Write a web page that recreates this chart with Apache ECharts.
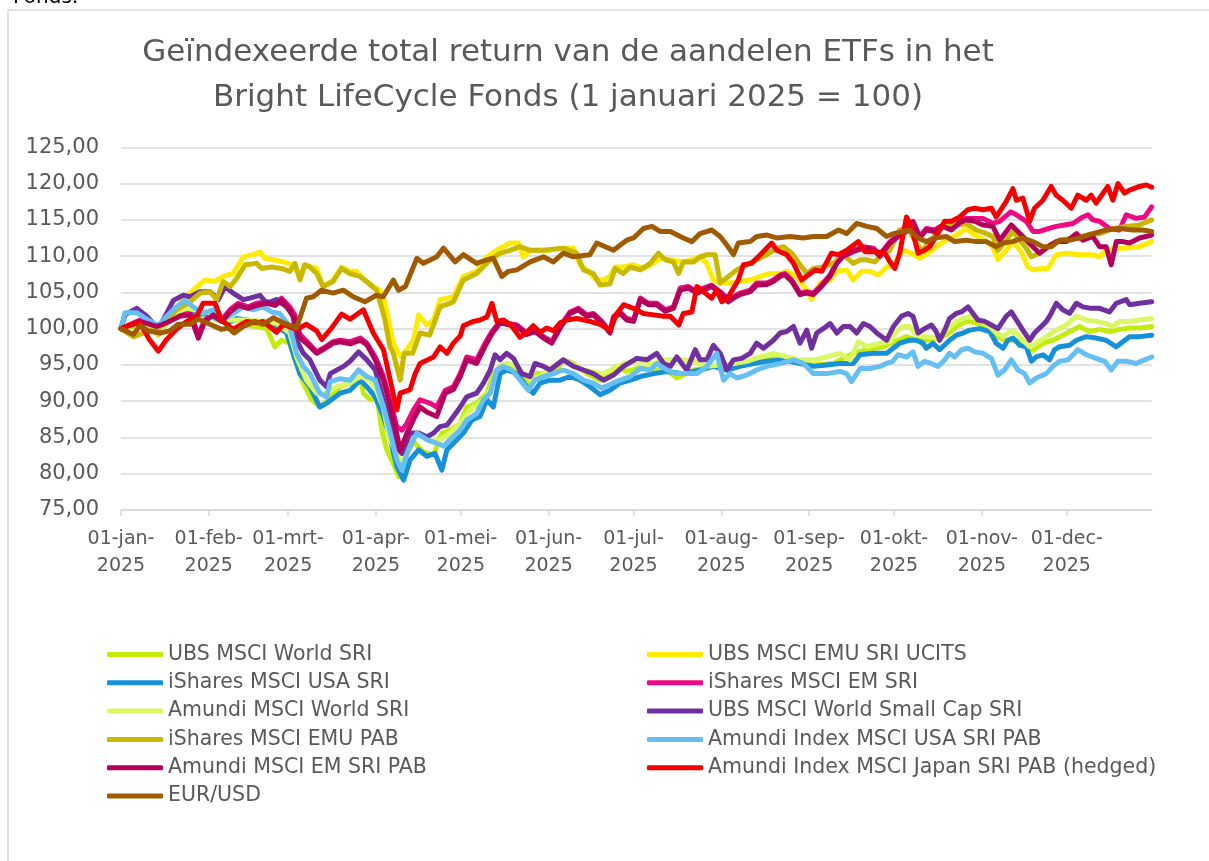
<!DOCTYPE html>
<html>
<head>
<meta charset="utf-8">
<script src="https://cdn.jsdelivr.net/npm/echarts@6/dist/echarts.min.js"></script>
<style>
html, body { margin: 0; padding: 0; background: #fff; }
#chart { width: 1209px; height: 861px; }
</style>
</head>
<body>
<div id="chart"></div>
<script>
// maandgrenzen (dag van het jaar) voor de x-as
var monthStarts = [0, 31, 59, 90, 120, 151, 181, 212, 243, 273, 304, 334];
var monthNames = ['jan', 'feb', 'mrt', 'apr', 'mei', 'jun', 'jul', 'aug', 'sep', 'okt', 'nov', 'dec'];

var seriesNames = [
    'UBS MSCI World SRI', 'UBS MSCI EMU SRI UCITS',
    'iShares MSCI USA SRI', 'iShares MSCI EM SRI',
    'Amundi MSCI World SRI', 'UBS MSCI World Small Cap SRI',
    'iShares MSCI EMU PAB', 'Amundi Index MSCI USA SRI PAB',
    'Amundi MSCI EM SRI PAB', 'Amundi Index MSCI Japan SRI PAB (hedged)',
    'EUR/USD'
];
var seriesColors = ['#C3EC0B', '#FFEB00', '#1690D8', '#EE0A82', '#DCF764', '#7030A0',
    '#C9B800', '#66BFF2', '#B4005B', '#F50000', '#A05A00'];

// [dag, index]
var ubsWorld = [[0,100],[4.4,100.3],[9.1,100.5],[13.2,99.1],[16.1,100.7],[19.6,101.7],[23.2,102.1],[26.7,101.7],[30.2,102.1],[33.8,101.2],[37.3,101],[40.8,101.2],[44.4,100.5],[47.9,100.3],[51.4,100],[54.4,97.5],[56.7,98.4],[59.6,98],[61.4,95.7],[64.4,92.5],[67.3,90.2],[70.2,89.2],[73.2,90.2],[77.4,92],[80.9,92.5],[84.5,93.4],[85.6,91.1],[88,90.2],[90.4,90.6],[92.1,86],[93.9,83.3],[96.2,81.4],[98,79.6],[100.4,82.4],[103.3,84.4],[106.8,83],[110.4,82.6],[113.3,85.6],[116.2,86],[119.8,86.9],[122.1,89.2],[125.6,89.7],[129.2,91.1],[131.5,93.8],[133.9,94.8],[136.2,95.2],[139.2,94.8],[142.1,93.4],[144.5,92],[146.8,93.8],[150.4,93.8],[153.9,94.3],[156.2,95.7],[159.8,95.2],[164.5,93.8],[169.2,92.9],[171.6,93.8],[175.1,94.8],[178.6,94.1],[183,94.6],[188.1,94.3],[192.8,94.3],[196.3,93.2],[202.2,94.3],[209.2,94.8],[216.3,94.8],[223.4,95.4],[230.4,95.9],[237.5,95.4],[244.5,95],[251.6,95.2],[258.6,96.6],[263.4,97.1],[269.2,97.5],[274.5,98.4],[277.4,98.9],[280.9,98.4],[284.4,98.4],[287.9,98.7],[291.5,99.1],[295,100.3],[298.5,101],[302,100.8],[305.6,100.1],[309.1,98.9],[312.6,98.4],[316.2,98.4],[319.7,97.8],[322,97],[325.6,98],[329.1,98.4],[332.6,99.1],[336.2,99.8],[338.5,100.3],[342.1,99.6],[345.6,99.9],[349.1,99.6],[352.6,99.9],[356.2,100.1],[359.7,100.1],[364,100.3]];

var ubsEmu = [[0,100],[4.4,98.9],[9.1,99.6],[12.6,99.8],[16.1,101.2],[19.6,103],[23.2,104.4],[25.5,105.3],[29.6,106.7],[33.2,106.5],[36.1,107.2],[39.6,107.6],[43.2,109.9],[46.7,110.2],[49.1,110.6],[50.8,109.7],[53.8,109.5],[57.3,109.2],[60.8,108.8],[63.2,107.2],[64.9,108.8],[69.1,108.3],[71.4,105.8],[74.9,106.7],[77.9,108.5],[80.8,107.9],[83.2,107.9],[85.5,106.9],[89.1,105.8],[91.4,105.3],[92.7,104.4],[94.5,101.2],[96.2,98],[98,96.6],[99.2,96.1],[100.9,97.1],[103.3,98.4],[105.1,101.9],[108,100.5],[110.4,101.2],[112.7,104],[117.4,104.4],[120.9,107.2],[125.6,107.9],[129.2,109.9],[132.7,110.8],[137.4,111.8],[140.4,111.8],[142.1,109.9],[144.5,110.8],[148,110.8],[151.5,110.8],[156.2,111.1],[159.8,111.1],[162.1,108.8],[164.5,108.1],[168,106.7],[170.4,106.7],[172.7,107.2],[174.5,108.5],[177.4,108.5],[181,108.8],[184.5,108.3],[188.1,109],[190.4,109.7],[194,109.5],[198.6,109.2],[201.6,109.5],[204.5,109.9],[206.9,109],[209.2,106.7],[211.6,106.3],[215.1,106.3],[218.6,106.5],[222.2,106.7],[225.7,107.2],[229.2,107.6],[232.8,107.6],[235.1,107.9],[238.6,107.2],[242.2,105.3],[243.9,104],[246.9,106.3],[250.4,106.7],[252.8,107.9],[256.3,108.1],[258.6,106.7],[261.6,107.9],[264.5,107.9],[267.5,107.4],[270.4,108.5],[272.8,108.8],[276.2,110.8],[279.1,110.4],[282.1,109.7],[284.4,110.2],[287.9,111.3],[291.5,112.2],[295,112.9],[298.5,113.8],[301.5,112.9],[305,112.2],[307.9,111.3],[309.7,109.5],[312.6,110.8],[315,112],[317.9,110.6],[320.3,108.5],[322.1,108.1],[325,108.3],[327.4,108.3],[330.3,110.2],[333.8,110.4],[338.5,110.2],[343.2,110.2],[345.6,109.9],[347.9,110.8],[351.5,111.1],[355,111.1],[359.7,111.3],[364,112]];

var isharesUsa = [[0,100],[4.4,100.5],[9.1,101],[13.2,100],[16.1,101],[19.6,102.1],[23.2,102.6],[26.7,101.9],[30.2,102.1],[33.8,101.4],[37.3,100.7],[40.8,101.4],[44.4,101.2],[47.9,101],[51.4,101],[54.9,100.3],[58.5,99.4],[60.8,96.6],[63.2,93.8],[66.7,92],[70.2,89.2],[72.6,89.7],[77.4,91.1],[80.9,91.5],[84.5,92.9],[86.8,92],[89.8,90.6],[92.7,87.9],[95.1,84.7],[97.4,81],[99.8,79.1],[102.1,81.9],[105.1,83.3],[108,82.4],[110.9,82.8],[113.3,80.5],[115.1,83.3],[117.4,84.2],[120.9,85.6],[123.9,87.4],[126.8,87.9],[129.2,90.2],[131.5,89.2],[133.9,93.8],[136.2,94.3],[139.8,93.8],[143.3,92],[145.6,91.1],[148,92.5],[151.5,92.9],[155.1,92.9],[158.6,93.4],[162.1,92.9],[165.7,92],[169.2,90.9],[172.7,91.5],[176.2,92.5],[179.8,92.9],[183.4,93.4],[188.1,93.8],[192.8,94.1],[198.6,93.8],[204.5,94.3],[209.2,94.8],[214,94.3],[218.6,94.8],[223.4,95.2],[228.1,95.5],[234,95.7],[239.8,95.2],[244.5,94.8],[249.2,95],[253.9,95.2],[258.6,95.2],[261,96.4],[265.7,96.6],[270.4,96.6],[275,98],[278.5,98.4],[280.9,98.4],[283.2,98],[284.4,97.3],[286.8,98],[289.1,97.1],[292.6,98.4],[295,99.1],[297.4,99.4],[299.7,99.8],[303.2,100],[306.8,99.6],[309.1,98],[311.5,97.3],[313.2,98.4],[315,98.7],[317.4,97.7],[319.7,97.5],[321.5,95.5],[323.2,96.1],[325.6,96.4],[327.9,95.7],[329.7,97.1],[331.5,97.5],[335,97.7],[337.4,98.4],[340.9,98.9],[344.4,98.7],[347.9,98.4],[351.5,97.5],[353.8,98.2],[356.2,98.9],[359.7,98.9],[364,99.1]];

var isharesEm = [[0,100],[6.7,101.2],[12.6,100.5],[16.1,101],[20.8,101.9],[24.4,102.1],[27.3,99.2],[29.6,101.2],[32.6,102.1],[35.5,101.2],[38.5,102.6],[41.4,103.5],[44.9,103],[47.9,103.5],[51.4,103.7],[54.4,103.5],[56.7,104.2],[59.6,103],[61.4,101.9],[63.2,99.2],[65.5,98.3],[69.1,96.8],[71.4,97.3],[74.9,98.2],[77.4,98.4],[80.9,98.2],[84.5,98.7],[86.8,98],[89.8,96.1],[92.7,93.4],[95.6,89.2],[97.4,86.5],[99.2,86],[100.9,86.9],[103.3,88.8],[105.6,90.2],[109.2,89.7],[111.5,89.2],[114.5,91.5],[117.4,92],[119.8,93.8],[122.1,96.1],[125.6,95.7],[128.6,98],[131,99.6],[133.9,101],[137.4,100.7],[139.8,100.5],[143.3,99.4],[146.2,99.8],[149.2,98.9],[152.1,98.2],[155.1,100.3],[158.6,102.3],[161.5,102.8],[164.5,101.9],[166.8,102.1],[169.8,101],[172.7,99.6],[174,101.7],[176.3,102.3],[178.6,101.4],[181,101.2],[183.4,104.2],[186.3,103.5],[189.2,103.5],[192.2,102.6],[195.1,103],[197.5,105.6],[200.4,105.8],[203.4,105.1],[205.7,105.6],[208.6,106],[211.6,105.1],[214.5,104],[216.3,104.4],[218.6,104.9],[222.2,105.3],[224.5,106.3],[228.1,106.3],[230.4,106.7],[232.8,107.4],[234.5,107.6],[236.9,106.7],[239.8,104.9],[242.2,105.1],[244.5,104.9],[246.9,105.8],[250.4,107.4],[252.8,109.2],[255.1,110.2],[258.6,110.8],[262.2,111.3],[265.7,111.1],[268,110.2],[271.6,112],[274.5,112.9],[277.4,113.6],[279.7,114.8],[282.1,112.7],[284.4,113.8],[287.4,113.6],[290.3,114.3],[293.2,113.8],[296.2,114.8],[298.5,115.2],[301.5,115.2],[304.4,115.2],[307.9,114.5],[310.3,114.8],[314.2,116.1],[316.2,115.7],[319.7,114.8],[322.1,113.4],[324.4,113.4],[327.4,113.8],[330.3,114.1],[333.2,114.3],[336.2,114.5],[339.7,115.4],[341.5,115.7],[343.2,115],[345.6,114.8],[349.1,113.8],[352.6,113.6],[355,115.7],[358.5,115.2],[361.5,115.4],[364,116.8]];

var amundiWorld = [[0,100],[4.4,100.5],[13.2,99.6],[19.6,102.3],[23.2,102.8],[30.2,102.3],[37.3,101.2],[44.4,101.2],[51.4,101],[54.9,100.7],[59.6,99.4],[62,96.1],[65.5,92.9],[69.1,91.1],[72.6,91.1],[76.1,92],[80.8,92.5],[84.4,93.4],[87.9,92.9],[90.2,91.5],[92.6,89.2],[94.9,84.7],[97.4,82.8],[99.2,81.2],[102.1,84.7],[105.6,85.6],[109.2,84.4],[112.7,84.7],[116.2,85.6],[119.8,86.9],[123.3,88.8],[126.8,89.7],[130.4,91.5],[132.7,94.3],[136.2,95.2],[139.8,94.8],[143.3,93.4],[145.6,92.9],[149.2,93.8],[156.2,95.7],[163.3,94.3],[170.4,93.8],[177.4,95.2],[183.4,95.5],[188.1,95.2],[192.8,95.7],[197.5,95.7],[202.2,95.5],[206.9,94.8],[211.6,95],[216.3,95.2],[221,95.5],[225.7,96.1],[230.4,96.6],[235.1,96.1],[239.8,95.7],[244.5,95.7],[249.2,96.1],[253.9,96.6],[257.5,95.7],[260.4,98.2],[263.4,97.5],[268.1,98],[271.6,98.2],[273.8,99.6],[276.2,100.3],[278.5,100.3],[280.9,99.1],[284.4,98.9],[287.9,98.7],[291.5,99.8],[295,101],[297.4,101.4],[299.7,101.7],[303.2,101.2],[306.8,100.3],[309.1,99.4],[311.5,98.9],[313.8,99.6],[316.2,99.4],[318.5,98.4],[320.9,97.5],[323.2,98],[326.8,98.9],[330.3,99.8],[333.8,100.5],[337.4,101.7],[340.9,101.2],[344.4,101],[347.9,100.7],[350.3,100.3],[352.6,101],[356.2,101],[359.7,101.2],[364,101.4]];

var smallCap = [[0,100],[1.4,101.9],[5.5,102.8],[9.1,101.7],[13.2,100],[16.1,102.1],[18.5,103.9],[22,104.6],[24.4,104.4],[27.9,105.1],[31.4,105.1],[34.4,104],[36.7,105.8],[39.6,104.9],[43.2,104],[45.5,104.2],[49.1,104.6],[51.4,103.5],[54.9,104],[58.5,103],[60.8,101.7],[62,98.4],[64.4,96.6],[66.7,95.7],[70.2,92.9],[72.6,92],[73.9,93.8],[78.6,94.8],[80.9,95.5],[83.9,96.8],[86.8,95.7],[89.8,94.3],[92.7,90.2],[95.1,86.9],[97.4,83.7],[99.2,82.8],[102.1,85.6],[105.1,85.6],[108,85.1],[110.4,85.6],[112.7,86.5],[115.1,86.7],[117.4,87.9],[119.8,89.2],[122.1,90.6],[125.6,91.1],[128,92.5],[130.4,94.3],[132.1,96.4],[133.9,95.7],[136.2,96.6],[138.6,95.9],[141.5,93.8],[144.5,93.4],[146.2,95.2],[149.2,94.8],[151.5,94.3],[156.2,95.7],[159.8,94.8],[163.3,94.3],[166.8,93.8],[170.4,92.9],[173.9,93.6],[177.4,94.8],[182.2,95.9],[185.7,95.7],[189.2,96.6],[191.6,95.2],[194,94.8],[196.3,96.1],[199.8,94.3],[202.8,97.1],[204.5,95.7],[206.9,95.7],[209.2,97.7],[211.6,96.6],[214,94.3],[216.3,95.7],[219.2,95.9],[222.2,96.6],[224.5,98],[226.9,97.3],[230.4,98.4],[232.8,99.4],[235.1,99.6],[237.5,100.3],[239.8,98],[242.2,99.8],[243.9,97.3],[245.7,99.4],[248,100],[250.4,100.7],[252.8,99.4],[255.1,100.3],[257.5,100.3],[259.8,99.4],[262.2,100.7],[264.5,100.3],[266.9,99.4],[270.4,98.4],[272.8,100.3],[275.6,101.7],[277.9,102.1],[279.7,101.7],[281.5,99.4],[283.8,100],[286.2,100.5],[287.9,99.6],[289.1,98.4],[290.9,99.8],[292.6,101.4],[295,102.1],[296.8,102.3],[299.1,103],[300.9,102.1],[302.6,101.2],[305,101],[307.4,100.5],[309.7,100],[312.6,101.7],[314.4,102.3],[316.2,101.2],[318.5,99.8],[320.9,98.4],[322.6,99.4],[325,100.3],[326.8,101],[328.5,102.1],[330.3,103.5],[332.6,102.6],[335,102.1],[337.4,103.5],[339.7,103],[342.6,102.8],[345.6,102.8],[349.1,102.3],[351.5,103.5],[355,104],[356.2,103.3],[359.7,103.5],[364,103.7]];

var isharesEmuPab = [[0,100],[4.4,98.9],[9.1,99.6],[12.6,99.8],[16.1,101],[19.6,102.6],[24.4,103.7],[27.9,104.9],[31.4,105.1],[33.8,104],[36.1,106.5],[38.5,105.8],[40.8,106.9],[43.8,108.8],[47.9,109],[49.7,108.3],[53.2,108.5],[56.7,108.3],[59.6,107.9],[61.4,109],[63.2,106.7],[64.9,108.8],[66.7,108.5],[69.1,107.6],[71.4,105.8],[74.9,106.5],[77.9,108.3],[80.8,107.6],[84.4,107.2],[86.7,106.5],[90.2,105.3],[92,103],[93.2,101.2],[95,97.5],[96.2,96.6],[98.6,92.9],[100,96.6],[103,96.6],[105.6,99.4],[109,99.1],[112.7,103],[117.4,103.7],[120.9,106.7],[125.6,107.6],[130.4,109.5],[134,110.4],[137.4,110.8],[140.9,111.3],[144.5,110.8],[149.2,110.8],[156.2,111.1],[160.9,110.4],[163.3,108.1],[166.8,107.6],[169.2,106],[172.7,106.2],[174.5,108.3],[177.4,107.6],[179.8,108.5],[183.4,108.1],[186.9,109],[189.8,110.4],[192.2,109.5],[195.1,109.2],[196.9,107.6],[198.6,109.2],[202.2,109.2],[204.5,109.9],[206.9,110.2],[209.8,110.2],[211.6,106.3],[214.5,107.2],[217.5,108.1],[221,108.8],[224.5,109.5],[228.1,110.2],[231.6,111.1],[234,111.3],[236.9,110.4],[239.8,108.8],[242.2,107.6],[244.5,108.3],[248,108.5],[251.6,109],[255.1,110.2],[258.6,109],[261,109.5],[263.2,109.5],[266.2,109.2],[268,109.9],[271.5,110.8],[275,113.6],[277.9,113.8],[280.3,112.2],[282.6,110.8],[285.6,111.8],[288.5,113.6],[290.9,114.3],[293.8,114.5],[296.2,114.3],[298.5,114.5],[302,113.6],[305.6,113.1],[307.9,112.7],[309.7,110.8],[312.6,112.2],[315,113.4],[317.4,112.2],[319.7,111.1],[321.5,109.9],[324.4,110.4],[327.9,111.5],[331.5,112.2],[336.2,112.5],[340.9,112.9],[345.6,113.1],[350.3,113.8],[355,114.1],[359.7,114.3],[364,115]];

var amundiUsaPab = [[0,100],[1.4,102.2],[5.5,102.2],[9.1,101.3],[13.2,100.4],[16.1,101.7],[19.6,103],[22.6,103.9],[25.5,103],[29.1,102.1],[32.6,102.6],[36.1,101.2],[39.6,102.1],[43.2,103],[46.7,102.6],[50.2,103],[53.2,102.3],[56.1,102.1],[59.6,100.3],[62,96.6],[64.4,94.8],[66.7,93.8],[70.2,91.1],[72.6,90.6],[73.9,92.7],[77.4,93.1],[80.9,92.9],[83.9,94.3],[86.8,93.4],[89.8,92.9],[92.7,89.2],[95.1,85.6],[97.4,81.9],[99.2,80.5],[101.5,83.3],[104.5,85.6],[108,84.7],[111.5,84.2],[113.9,83.8],[116.2,84.7],[119.8,86],[122.1,87.4],[125.6,88.3],[128,90.2],[130.4,91.1],[132.7,94.3],[135,94.8],[138,94.3],[141,92.9],[143.9,91.5],[146.2,92.9],[149.2,93.4],[152.7,93.8],[156.2,94.3],[159.8,93.8],[163.3,92.9],[166.8,92.5],[169.8,91.8],[172.7,92.3],[176.2,92.9],[179.8,93.4],[183.4,94.5],[186.9,94.3],[189.2,95.2],[192.8,94.3],[196.3,93.8],[199.8,93.8],[203.4,93.8],[206.9,94.8],[210.4,96.6],[212.8,92.9],[215.1,93.8],[217.5,93.2],[221,93.6],[224.5,94.3],[228.1,94.8],[232.8,95.2],[237.5,95.7],[241,95.2],[244.5,93.8],[249.2,93.8],[253.9,94.1],[256.3,93.8],[258,92.7],[261,94.5],[264.5,94.5],[268.1,94.8],[270.3,95.2],[272.6,95.5],[274.4,96.4],[277.4,96.1],[279.7,96.8],[281.5,94.8],[283.8,95.5],[286.2,95.2],[288.5,94.8],[290.9,95.7],[292.6,96.6],[294.4,96.1],[296.8,97.1],[299.1,97.3],[301.5,96.8],[304.4,96.6],[307.4,95.9],[309.7,93.6],[312,94.3],[314.4,95.7],[316.8,94.3],[319.1,93.8],[320.9,92.5],[323.2,93.2],[326.8,93.8],[329.1,94.8],[331.5,95.5],[334.5,95.7],[337.9,97.1],[340.9,96.4],[344.4,95.9],[347.4,95.5],[349.7,94.3],[352,95.5],[355,95.5],[358.5,95.2],[361.5,95.7],[364,96.1]];

var amundiEmPab = [[0,100],[6.7,101],[12.6,100.3],[16.1,100.8],[20.8,101.7],[24.4,101.9],[27.3,98.7],[29.6,101],[32.6,101.9],[35.5,101],[38.5,102.3],[41.4,103.2],[44.9,102.8],[47.9,103.2],[51.4,103.5],[54.4,103.2],[56.7,103.9],[59.6,102.6],[61.4,101.2],[63.2,98.7],[65.5,98],[69.1,96.6],[71.4,97.1],[74.9,98],[77.4,98.2],[80.9,97.9],[84.5,98.4],[86.8,97.8],[89.8,95.7],[92.7,92.9],[95.6,88.5],[97.4,85.5],[98.6,83.2],[100.9,85.5],[103.3,87.5],[105.6,89.2],[108,88.5],[111.5,87.9],[114.5,91.1],[117.4,91.6],[119.8,93.4],[122.1,95.7],[125.6,95.2],[128.6,97.6],[131,99.3],[133.9,100.8],[137.4,100.5],[139.8,100.3],[143.3,99.2],[146.2,99.6],[149.2,98.7],[152.1,98],[155.1,100.1],[158.6,102.1],[161.5,102.6],[164.5,101.7],[166.8,101.9],[169.8,100.8],[172.7,99.4],[174,101.5],[176.3,102.1],[178.6,101.2],[181,101],[183.4,104],[186.3,103.3],[189.2,103.3],[192.2,102.4],[195.1,102.8],[197.5,105.3],[200.4,105.6],[203.4,104.9],[205.7,105.3],[208.6,105.8],[211.6,104.9],[214.5,103.7],[216.3,104.2],[218.6,104.7],[222.2,105.1],[224.5,106],[228.1,106.1],[230.4,106.5],[232.8,107.2],[234.5,107.4],[236.9,106.5],[239.8,104.7],[242.2,104.9],[244.5,104.7],[246.9,105.6],[250.4,107.2],[252.8,109],[255.1,110],[258.6,110.6],[262.2,111.1],[265.7,110.9],[268,110],[271.6,111.8],[274.5,112.7],[277.4,113.4],[279.7,114.6],[282.1,112.5],[284.4,113.6],[287.4,113.4],[290.3,114.1],[293.2,113.6],[296.2,114.6],[298.5,115],[301.5,114.8],[304.4,114.3],[307.9,114.1],[310.3,112.2],[314.4,114.3],[316.2,113.6],[318.5,112.7],[321.5,111.5],[324.4,110.4],[327.4,111.3],[330.3,112],[333.8,112],[337.4,113.1],[339.7,112.2],[343.2,112.7],[345.6,111.3],[347.9,111.3],[349.7,108.8],[351.5,112],[353.8,112],[356.2,111.8],[359.7,112.5],[364,112.9]];

var amundiJapan = [[0,100],[3,100.5],[6.7,100.8],[10,98.5],[13.2,96.9],[16.1,98.5],[19.6,99.9],[23.2,101],[26.7,101.7],[29,103.5],[33.2,103.5],[35.5,101.2],[39.6,99.9],[44.4,101],[47.9,100.8],[50.2,101],[54.9,99.5],[57.3,100.6],[62,99.9],[65.5,100.6],[69.1,99.7],[70.9,98.5],[74,99.9],[77.9,102],[80.9,101.3],[85.6,102.6],[89.1,99.4],[92.7,97.1],[95.6,92],[97.4,88.8],[98.6,91.1],[102.1,91.6],[103.9,93.8],[105.6,95.2],[110.4,96.1],[112.7,97.5],[115.1,96.6],[117.4,98],[119.8,99],[120.9,100.4],[124.5,101],[126.8,101.2],[129.2,101.6],[131,103.5],[132.7,101],[135.1,101.2],[137.9,100.4],[140.9,98.8],[143.3,99.5],[145.6,100.4],[148,99.5],[150.4,100.1],[152.7,99.7],[155.1,100.8],[157.4,101.2],[161,101.4],[165.6,101],[169.2,100.6],[172.8,99.8],[175.1,102.1],[177.5,103.3],[181,102.8],[184.5,102.1],[188.1,101.9],[191.6,101.7],[194,101.7],[197,100.5],[198.6,102.1],[201.6,102.3],[203.4,105.8],[206.3,104.9],[208.6,104.2],[210.4,105.3],[212.2,103.7],[214.5,104.4],[218,106.7],[219.8,108.8],[222.7,109],[226.3,110.4],[229.8,111.8],[231.6,110.8],[235.1,110.2],[237.5,109],[240.4,106.7],[242.7,107.4],[245.1,108.1],[247.5,107.9],[250.9,110.4],[253.3,110.2],[256.3,110.8],[260.4,112],[262.8,110.6],[266.3,110.6],[269.8,110.4],[271.6,109.2],[273.3,108.3],[275,110.4],[277.4,115.4],[279.1,114.1],[281.5,110.4],[283.8,110.8],[285.6,111.3],[287.9,112.7],[290.9,114.8],[293.3,114.8],[296.2,115.4],[299.1,116.4],[301.5,116.6],[304.4,116.4],[307.4,116.6],[309.1,115.4],[312.6,117.5],[315,119.3],[316.2,117.7],[318.5,118],[320.9,114.8],[322.6,116.6],[325.6,117.7],[328.5,119.6],[330.3,118.4],[332.6,117.7],[335.6,116.6],[337.9,118.4],[340.9,117.7],[342.6,118.4],[344.4,117.3],[348.5,119.6],[350.3,117.7],[352.1,120],[354.4,118.7],[356.2,119.1],[359.7,119.6],[362.1,119.8],[364,119.5]];

var eurUsd = [[0,100],[4.4,99.2],[6.7,100.4],[9.6,99.7],[13.8,99.4],[17.3,99.7],[20.2,100.6],[24.4,100.6],[27.3,101.3],[31.4,100.6],[35.5,99.9],[37.8,100.1],[40,99.4],[43.2,100.3],[47.3,101],[50.2,100.6],[53.8,101.5],[57.3,100.8],[62,100.1],[65.5,104.2],[67.9,104.4],[70.8,105.3],[74.9,104.9],[78.5,105.3],[82,104.4],[86.1,103.7],[90.2,104.6],[92.6,104.4],[96.2,106.7],[98,105.3],[100.4,105.8],[104.5,109.7],[106.8,109],[111.5,109.9],[113.9,111.1],[118,109.2],[120.9,110.2],[125.6,109],[129.2,109.5],[131.5,109.7],[134.5,107.2],[136.8,107.9],[139.8,108.1],[144.5,109.2],[149.2,109.9],[152.7,109.2],[156.2,110.4],[159.8,109.9],[165.6,110.2],[168,111.8],[173.9,110.8],[178.6,112.2],[181,112.5],[184.5,113.8],[187.5,114.1],[190.4,113.4],[194,113.4],[198.6,112.5],[201.6,112],[204.5,113.1],[208.6,113.6],[211.6,112.7],[214,111.5],[216.3,110.2],[218,111.8],[222.2,112],[224.5,112.7],[228.1,112.9],[231.6,112.5],[236.3,112.7],[241,112.5],[244.5,112.7],[249.2,112.7],[253.4,113.6],[256.3,113.1],[259.8,114.5],[263.4,114.1],[266.9,113.8],[270.4,112.7],[272.8,113.1],[276.2,113.4],[278.5,113.6],[281.5,112.5],[284.4,112],[287.4,112.5],[291.5,112.7],[294.4,112],[298.5,112.2],[302,112],[305.6,112],[309,111.3],[311.4,111.8],[314.9,112],[318.5,112.5],[322,112],[325.6,111.3],[328.5,111.3],[331.5,112.2],[335,112.2],[338.5,112.5],[343.2,113.1],[347.9,113.6],[352.6,113.8],[357.4,113.6],[360.9,113.6],[364,113.4]];

var seriesData = [ubsWorld, ubsEmu, isharesUsa, isharesEm, amundiWorld, smallCap,
    isharesEmuPab, amundiUsaPab, amundiEmPab, amundiJapan, eurUsd];

var font = 'DejaVu Sans';
var textColor = '#595959';

var myChart = echarts.init(document.getElementById('chart'));

var series = seriesNames.map(function (name, i) {
    return {
        name: name,
        type: 'line',
        data: seriesData[i],
        symbol: 'none',
        showSymbol: false,
        color: seriesColors[i],
        lineStyle: { width: 5, color: seriesColors[i], cap: 'round', join: 'round' },
        itemStyle: { color: seriesColors[i] },
        emphasis: { disabled: true }
    };
});

function legendFor(names, left) {
    return {
        left: left,
        top: 644,
        padding: 0,
        orient: 'vertical',
        icon: 'roundRect',
        itemWidth: 56,
        itemHeight: 5,
        itemGap: 7.3,
        selectedMode: false,
        textStyle: { fontFamily: font, fontSize: 20.5, color: textColor, lineHeight: 20 },
        data: names
    };
}

option = {
    animation: false,
    backgroundColor: '#ffffff',
    title: {
        text: 'Geïndexeerde total return van de aandelen ETFs in het\nBright LifeCycle Fonds (1 januari 2025 = 100)',
        left: 563,
        top: 25,
        textAlign: 'center',
        textStyle: { fontFamily: font, fontSize: 31, fontWeight: 'normal', color: textColor, lineHeight: 45 }
    },
    graphic: [
        {   // rand rond de grafiek
            type: 'rect',
            shape: { x: 8, y: 10, width: 1250, height: 900 },
            style: { fill: 'none', stroke: '#D9D9D9', lineWidth: 1.5 },
            silent: true
        },
        {   // afgesneden tekst boven de grafiek
            type: 'text',
            style: { text: 'Fonds:', x: 13, y: 8, verticalAlign: 'bottom', font: '20px "DejaVu Sans"', fill: '#000' },
            silent: true
        }
    ],
    legend: [
        legendFor(seriesNames.filter(function (n, i) { return i % 2 === 0; }), 107),
        legendFor(seriesNames.filter(function (n, i) { return i % 2 === 1; }), 647)
    ],
    grid: { left: 121, top: 147.3, width: 1030.7, height: 362.7 },
    xAxis: {
        type: 'value',
        min: 0,
        max: 364,
        axisLine: { show: true, lineStyle: { color: '#D9D9D9', width: 1.5 } },
        axisTick: { show: true, customValues: monthStarts, length: 6, lineStyle: { color: '#D9D9D9', width: 1.5 } },
        axisLabel: {
            customValues: monthStarts,
            margin: 16,
            fontFamily: font,
            fontSize: 19,
            lineHeight: 27,
            color: textColor,
            formatter: function (v) {
                var idx = monthStarts.indexOf(Math.round(v));
                return '01-' + monthNames[idx] + '-\n2025';
            }
        },
        splitLine: { show: false }
    },
    yAxis: {
        type: 'value',
        min: 75,
        max: 125,
        interval: 5,
        axisLine: { show: false },
        axisTick: { show: false },
        axisLabel: {
            margin: 22,
            fontFamily: font,
            fontSize: 21,
            color: textColor,
            formatter: function (v) { return v.toFixed(2).replace('.', ','); }
        },
        splitLine: { lineStyle: { color: '#D9D9D9', width: 1.5 } }
    },
    series: series
};

myChart.setOption(option);
</script>
</body>
</html>
